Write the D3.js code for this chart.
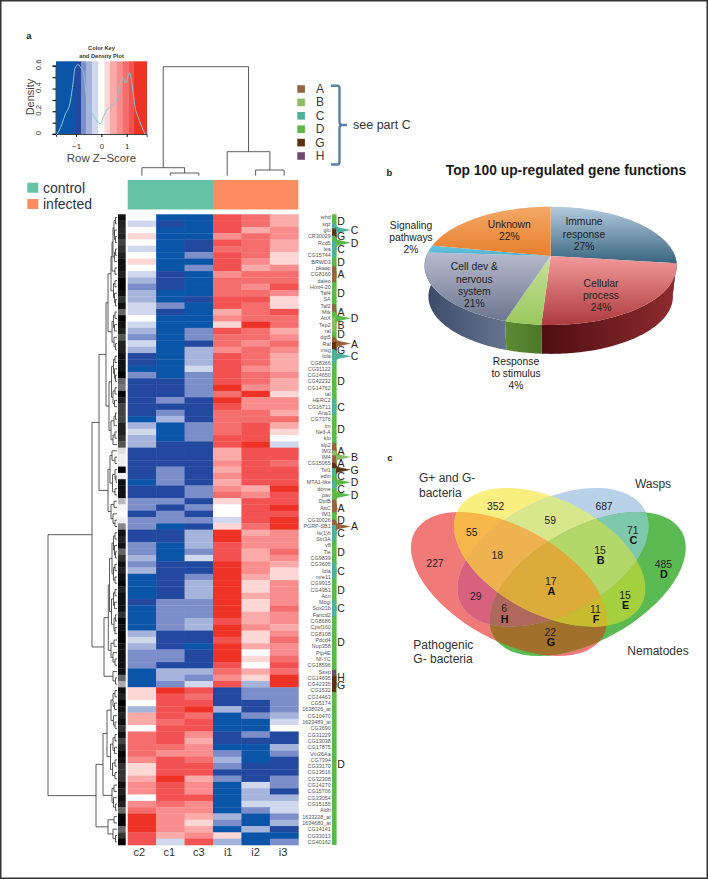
<!DOCTYPE html>
<html><head><meta charset="utf-8">
<script src="https://cdn.jsdelivr.net/npm/d3@7/dist/d3.min.js"></script>
<style>html,body{margin:0;padding:0;background:#fff}svg{display:block}text{font-family:"Liberation Sans",Arial,sans-serif}</style>
</head><body><div id="chart"></div>
<script>
// ---------- panel a data ----------
const geneLabels = ["whd","sqz","glu","CR30029","Rcd5","lea","CG15744","BRWD3","pkaap","CG8160","daleo","Hmt4-20","Taf4","SA","Taf2","Mtk","AttX","Tep2","ral","dgt5","Ral","msg","lola","CG8366","CG31122","CG14650","CG42232","CG14762","tal","HERC2","CG16711","Ana3","CG7376","trn","Nelf-A","klu","slp2","IM3","IM4","CG15065","Tsf1","edin","MTA1-like","dome","pav","DptB","AttC","IM1","CG30026","PGRP-SB1","fs(1)h","Sin3A","v8","Tie","CG9839","CG3605","lola","mre11","CG9915","CG4951","Acn","Mogi","Sox21b","Fancd2","CG8686","Cpsf160","CG8108","Pdcd4","Nup358","Ptp4E","Nf-YC","CG18596","Sssp","CG14695","CG42335","CG1532","CG14463","CG5174","1638026_at","CG10470","1623489_at","CG3690","CG31229","CG13038","CG17875","Vm26Aa","CG7394","CG33170","CG13516","CG32308","CG14270","CG15706","CG33054","CG15155","Aldh","1633228_at","1634680_at","CG14141","CG33013","CG40162"];
const sampleNames = ["c2","c1","c3","i1","i2","i3"];
const levelC2 = [0,-1,0,1,0,-1,0,1,0,-1,-2,-3,-2,-2,-1,-1,0,-1,-2,-3,-1,-2,-4,-4,-5,-3,-4,-4,-4,-4,-4,-4,-5,
 -2,-1,-2,-2,-4,-4,-4,-4,-4,-5,-4,-4,-3,-3,-4,-3,-3,-4,-4,-3,-3,-2,-3,-2,-5,-5,-5,-5,-4,-5,-5,-5,-5,-2,
 -1,-2,-3,-3,-3,-5,-5,-5,1,1,0,-2,2,2,0,4,4,4,4,3,1,1,2,3,3,0,3,4,6,6,6,5,5];
const levelC1 = [-5,-4,-5,-5,-5,-5,-5,-5,-5,-4,-4,-4,-5,-5,-3,-4,-5,-5,-5,-5,-5,-5,-5,-5,-5,-5,-4,-4,-4,-3,-4,-3,-2,
 -5,-5,-5,-4,-4,-4,-4,-3,-3,-3,-4,-4,-3,-4,-3,-3,-5,-4,-4,-5,-5,-5,-4,-4,-4,-4,-4,-4,-3,-3,-3,-3,-3,-4,
 -4,-4,-3,-3,-4,-2,-2,-3,6,5,5,5,5,4,5,5,5,4,3,5,5,5,6,5,5,5,4,3,3,3,3,2,-1];
const levelC3 = [-5,-5,-5,-5,-4,-4,-3,-5,-3,-5,-5,-5,-5,-4,-5,-5,-5,-5,-3,-3,-4,-2,-2,-2,-1,-3,-3,-3,-3,-4,-4,-4,-4,
 -3,-3,-3,-4,-4,-4,-4,-4,-4,-4,-3,-3,-4,-3,-4,-3,-4,-2,-2,-2,-3,-1,-4,-4,-3,-2,-2,-2,-3,-3,-3,-2,-2,-4,
 -4,-5,-4,-4,-4,-2,-3,-1,5,4,5,6,4,5,5,3,2,3,3,4,5,5,2,3,3,5,3,3,2,1,2,3,5];
const levelI1 = [5,5,5,3,5,4,5,5,5,3,4,4,4,5,5,2,3,1,5,4,4,3,5,5,5,5,5,6,4,6,5,4,4,
 4,4,5,5,2,2,3,2,3,2,3,4,1,0,0,-1,1,6,6,5,5,5,6,6,6,6,6,6,6,6,6,5,6,6,
 5,6,6,6,5,4,3,5,-4,-4,-4,-2,-5,-5,-5,-4,-4,-5,-3,-2,-3,-4,-3,-5,-5,-5,-5,-5,-2,-3,-5,1,-2];
const levelI2 = [4,4,2,4,4,4,4,3,2,4,4,3,4,5,4,4,4,6,4,4,3,4,4,4,3,4,4,3,6,3,3,4,4,
 5,5,5,6,5,5,5,5,5,5,2,3,5,5,5,5,4,2,3,3,2,2,3,3,2,1,1,2,1,1,2,2,3,1,
 1,2,0,1,0,2,1,-2,-3,-3,-4,-4,-3,-5,-5,-3,-4,-5,-5,-5,-4,-4,-4,-1,-2,-2,-1,-3,-5,-5,-2,-5,-5];
const levelI3 = [2,2,3,3,2,2,1,1,3,4,4,5,3,1,1,5,4,4,2,3,4,3,2,2,2,3,2,2,1,3,3,2,4,
 2,1,0,-1,5,5,4,5,5,5,6,5,5,6,5,6,6,3,3,3,4,3,2,1,1,3,3,3,3,4,3,3,2,3,
 4,3,3,4,5,4,6,6,-3,-3,-3,-3,-2,-1,0,-4,-4,-2,-3,-4,-4,-4,-3,-3,-4,-2,-1,-1,-3,-2,-4,-5,-3];
const heatColumns = [levelC2,levelC1,levelC3,levelI1,levelI2,levelI3];
const keyLevels = [-5,-4,-3,-2,-1,0,1,2,3,4,5,6];
const keyColors = ["#0b55a9","#2248a0","#7b8ec9","#a6b4dc","#d0d8ee","#ffffff","#fdd6d6","#fbaaaa","#f98d8d","#f56e6e","#f25252","#ee3326"];
const keyBreaks = [-1.79,-1.04,-0.80,-0.61,-0.36,-0.12,0.12,0.34,0.60,0.83,1.07,1.29,1.79];
const densityZ = [-1.74,-1.57,-1.43,-1.24,-1.11,-1.04,-0.91,-0.80,-0.71,-0.61,-0.45,-0.25,-0.05,0.08,0.24,0.41,0.61,0.74,0.87,0.97,1.11,1.2,1.33,1.5,1.72];
const densityY = [0,0.08,0.17,0.27,0.46,0.58,0.61,0.58,0.55,0.36,0.23,0.14,0.09,0.15,0.22,0.24,0.31,0.45,0.49,0.45,0.54,0.45,0.24,0.12,0];
const sideStrip = [17,34,42,34,68,51,34,17,17,34,0,0,17,51,17,102,0,17,34,85,34,34,17,17,17,0,102,119,0,34,68,68,68,34,34,51,85,221,240,238,0,238,17,17,17,187,245,255,238,136,17,34,17,102,51,17,34,17,0,34,17,17,17,51,0,17,0,0,17,17,17,17,17,102,170,17,34,0,17,34,17,51,17,68,34,0,17,51,51,51,17,34,17,34,102,0,0,102,51,0];
const colTree = [109,[8,0,[2.7,0,0]],[24,0,[5.7,0,0]]];
const rowTree = [69,
 [25,
  [18,
   [11,
    [9,
     [6,[5,[4,[3,[1.5,0,0],[2.5,0,[1.5,0,0]]],[2.5,[1.5,0,0],0]],[2,0,0]],[3.5,[2,0,0],[2.5,0,[1.5,0,0]]]],
     [5,[3.5,[2,0,0],[2.5,0,0]],[3,0,[1.5,0,0]]]],
    [8,
     [5.5,[3.5,[2,0,0],[2.5,0,[1.5,0,0]]],[4,[2,0,0],[2.5,0,0]]],
     [6,[3,[1.5,0,0],0],[4,[2,0,0],0]]]],
   [9,
    [7,[5,0,[2,0,0]],[4.5,[2,0,[1,0,0]],[2,0,0]]],
    [6,[3,0,0],[4,0,[2,0,0]]]]],
  [13,
   [8.7,
    [7.5,[5,[3.5,[2,0,0],[2.5,0,[1.5,0,0]]],[3.5,[2,0,0],[2,0,0]]],[5.5,[3.5,[2,0,0],[2.5,0,0]],[3,[1.5,0,0],[2,0,0]]]],
    [6,[3,0,0],[4,0,[2,0,0]]]],
   [4,0,[1.5,0,0]]]],
 [21,
  [14,
   [10,
    [6,[4,[2,0,0],[2.5,0,0]],[3.5,0,[2,0,0]]],
    [6.5,[4,[2,0,0],[2.5,0,0]],[4.5,[2,0,0],[2,0,0]]]],
   [5,[3,0,0],[3.5,0,[1.5,0,0]]]],
  [9,[3,0,0],[4,0,[1.5,0,0]]]]];
// category marks down the right of the heatmap: [row, category, reach (1 = long spike)]
const categoryNames = ["A","B","C","D","G","H"];
const categoryColors = ["#96633c","#8cbc62","#4fb09c","#5cb947","#5e3210","#6f4a6a"];
const spikeRows = [2,3,4,5,9,15,16,17,20,21,22,30,37,38,39,40,41,42,43,44,46,48,49,50,56,62,73,74];
const spikeCats = ["C","G","D","C","A","A","D","B","A","G","C","C","A","B","A","G","C","D","C","D","A","D","A","C","C","C","H","G"];
const spikeReach = [1,.25,1,.25,.25,.25,1,.2,1,.25,1,.25,.25,1,.25,1,.25,1,.25,1,.28,.25,1,.25,.25,.25,.25,.25];
const letterRows = [0.5,2,3,4,5,7,9,12,15,16,17,18.5,20,21,22,26,30,33.5,37,38,39,40,41,42,43,44,46,48,49,50,53,56,59,62,67.3,72.8,74.1,86.7];
const letterCats = ["D","C","G","D","C","D","A","D","A","D","B","D","A","G","C","D","C","D","A","B","A","G","C","D","C","D","A","D","A","C","D","C","D","C","D","H","G","D"];
const letterFar  = [0,1,0,1,0,0,0,0,0,1,0,0,1,0,1,0,0,0,0,1,0,1,0,1,0,1,0,0,1,0,0,0,0,0,0,0,0,0];
const groupNames = ["control","infected"];
const groupColors = ["#66c2a5","#fc8d62"];
// ---------- panel b data ----------
const pieNames = [["Immune","response"],["Cellular","process"],["Response","to stimulus"],["Cell dev &","nervous","system"],["Signaling","pathways"],["Unknown"]];
const pieValues = [27,24,4,21,2,22];
const pieTop = ["#b3cade","#f29a9b","#c6e39a","#b6bace","#6cc5de","#f3a868"];
const pieBottom = ["#39657f","#ad3a3d","#9ac75e","#6d768e","#4fb2cf","#e87f2c"];
const pieWallA = ["#39657f","#8f2b2e","#5c8b33","#3b4a68","#3b4a68","#3b4a68"];
const pieWallB = ["#39657f","#4e0e13","#4c7826","#66748e","#3b4a68","#3b4a68"];
// ---------- panel c data ----------
const vennSets = ["R","Y","B","G"];
const vennRegions = ["R","Y","B","G","RY","RB","RG","YB","YG","BG","RYB","RYG","RBG","YBG","RYBG"];
const vennFills = ["#f07a78","#f9ef80","#b9d2e8","#5bba52","#f8b74a","#d8627e","#a0702c","#d8e78c","#a4cf3e","#7ec8ac","#eeb24e","#c9bb2e","#b0685c","#b3d768","#dcab3a"];
const vennCounts = ["352","687","59","55","71","15","18","227","485","17","29","15","6","11","22"];
const vennLetters = ["","","","","C","B","","","D","A","","E","H","F","G"];

// ---------- layout ----------
const W=708,H=879;
const svg=d3.select("#chart").append("svg").attr("width",W).attr("height",H).attr("viewBox",`0 0 ${W} ${H}`);
const defs=svg.append("defs");
const ink="#333";
const txt=(g,x,y,s,size,o={})=>g.append("text").attr("x",x).attr("y",y).text(s).attr("font-size",size)
  .attr("text-anchor",o.anchor||"middle").attr("fill",o.fill||"#222").attr("font-weight",o.weight||null)
  .attr("font-family",o.family||null).attr("dominant-baseline",o.base||"central");
const lato='Lato,"Open Sans",sans-serif';
svg.append("rect").attr("x",.75).attr("y",.75).attr("width",W-1.5).attr("height",H-1.5).attr("fill","#fff").attr("stroke","#333").attr("stroke-width",1.5);
txt(svg,29,35,"a",9.5,{weight:"bold"});
txt(svg,389.5,172,"b",9.5,{weight:"bold"});
txt(svg,390,457,"c",9.5,{weight:"bold"});

// heatmap
const xCol=d3.scaleBand().domain(sampleNames).range([127.7,298.3]);
const yRow=d3.scaleBand().domain(d3.range(geneLabels.length)).range([214.3,845]);
const levelColor=d3.scaleOrdinal(keyLevels,keyColors);
const gH=svg.append("g");
sampleNames.forEach((s,c)=>{
  gH.append("g").selectAll("rect").data(heatColumns[c]).join("rect")
   .attr("x",xCol(s)).attr("width",xCol.bandwidth()+.4)
   .attr("y",(d,i)=>yRow(i)).attr("height",yRow.bandwidth()+.3)
   .attr("fill",d=>levelColor(d));
});
// column side strip
const xStrip={x:118,w:7.7};
gH.append("g").selectAll("rect").data(sideStrip).join("rect")
  .attr("x",xStrip.x).attr("width",xStrip.w).attr("y",(d,i)=>yRow(i)).attr("height",yRow.bandwidth()+.3)
  .attr("fill",d=>d3.rgb(d,d,d));
// group bar
const gB=svg.append("g");
[[0,3],[3,6]].forEach(([a,b],i)=>gB.append("rect").attr("x",xCol(sampleNames[a])).attr("y",180)
  .attr("width",xCol.bandwidth()*(b-a)).attr("height",29.5).attr("fill",groupColors[i]));
// group legend
groupNames.forEach((n,i)=>{
  svg.append("rect").attr("x",27.3).attr("y",182.7+i*16.3).attr("width",11).attr("height",10).attr("fill",groupColors[i]);
  txt(svg,43,187.5+i*16,n,14,{anchor:"start",fill:"#2a3540",family:lato});
});
// sample labels
sampleNames.forEach((s,i)=>txt(svg,xCol(s)+xCol.bandwidth()/2-[2.5,1,0,-1,0,1][i],851.5,s,11,{family:lato,fill:"#333"}));
// gene labels
svg.append("g").selectAll("text").data(geneLabels).join("text")
  .attr("x",330.7).attr("y",(d,i)=>yRow(i)+yRow.bandwidth()/2).text(d=>d)
  .attr("font-size",5.4).attr("text-anchor","end").attr("dominant-baseline","central").attr("fill","#555");

// dendrograms: node = [height,left,right], leaf = 0
function layoutTree(tree,leafPos){
  const root=d3.hierarchy(tree,d=>Array.isArray(d)?d.slice(1):null);
  let n=0;
  root.eachAfter(d=>{
    if(!d.children){d.p=leafPos(n++);d.h=0;}
    else{d.p=(d.children[0].p+d.children[1].p)/2;d.h=d.data[0];}
  });
  return root;
}
const rowH=d3.scaleLinear().domain([0,69]).range([117,48]);
const rootR=layoutTree(rowTree,i=>yRow(i)+yRow.bandwidth()/2);
const colH=d3.scaleLinear().domain([0,109]).range([175.7,66.7]);
const rootC=layoutTree(colTree,i=>xCol(sampleNames[i])+xCol.bandwidth()/2);
const pathR=[],pathC=[];
rootR.each(d=>{if(d.children){const [a,b]=d.children;const x=rowH(d.h);
  pathR.push(`M${rowH(a.h)},${a.p}H${x}V${b.p}H${rowH(b.h)}`);}});
rootC.each(d=>{if(d.children){const [a,b]=d.children;const y=colH(d.h);
  pathC.push(`M${a.p},${colH(a.h)}V${y}H${b.p}V${colH(b.h)}`);}});
svg.append("path").attr("d",pathR.join("")).attr("fill","none").attr("stroke",ink).attr("stroke-width",.8);
svg.append("path").attr("d",pathC.join("")).attr("fill","none").attr("stroke",ink).attr("stroke-width",.8);

// category ribbon
const catColor=d3.scaleOrdinal(categoryNames,categoryColors);
const reach=d3.scaleLinear().domain([0,1]).range([332,351]);
const rowC=i=>yRow(i)+yRow.bandwidth()/2;
const gR=svg.append("g");
gR.append("rect").attr("x",reach(0)).attr("width",4.6).attr("y",214.3).attr("height",630.7).attr("fill",catColor("D"));
const spikeArea=d3.area().x0(reach(0)).x1(d=>reach(d[1])).y(d=>d[0]).curve(d3.curveLinear);
const shape=[[-1.1,0.15],[-.45,.3],[0,1],[.45,.3],[1.1,0.15]];
spikeRows.forEach((r,i)=>{
  const R=spikeReach[i];
  const w=R<.5?1.9:1;
  const pts=R<.5?[[-1.2,.22],[-.7,R*.85],[0,R],[.7,R*.85],[1.2,.22]]:shape.map(([o,v])=>[o,v*R]);
  gR.append("path").attr("d",spikeArea(pts.map(([o,v])=>[rowC(r)+o*yRow.bandwidth()*(R<.5?w*.55:1),v])))
    .attr("fill",catColor(spikeCats[i]));
});
letterRows.forEach((r,i)=>txt(svg,letterFar[i]?354.5:341,rowC(0)+r*yRow.step(),letterCats[i],10.5,{fill:"#222",anchor:"middle"}));

// color key
const keyX=d3.scaleLinear().domain([-1.79,1.79]).range([56,146.7]);
const keyY=d3.scaleLinear().domain([0,0.64]).range([134,61.3]);
const gK=svg.append("g");
keyColors.forEach((c,i)=>gK.append("rect").attr("x",keyX(keyBreaks[i])).attr("y",61.3)
  .attr("width",keyX(keyBreaks[i+1])-keyX(keyBreaks[i])+.3).attr("height",72.7).attr("fill",c));
gK.append("path").datum(densityZ.map((z,i)=>[z,densityY[i]]))
  .attr("d",d3.line().x(d=>keyX(d[0])).y(d=>keyY(d[1])).curve(d3.curveMonotoneX))
  .attr("fill","none").attr("stroke","#86c9d6").attr("stroke-width",1);
const axY=gK.append("g").attr("transform","translate(56,0)").call(d3.axisLeft(keyY).tickValues(d3.range(0,0.61,0.1)).tickSize(3.5).tickFormat(d=>Math.round(d*10)%2==0?(d==0?"0":d3.format(".1f")(d)):""));
axY.selectAll("text").attr("transform",function(d){return `translate(${+this.getAttribute("x")-1},${keyY(d)-keyY(d)}) rotate(-90 ${+this.getAttribute("x")-1} 0)`}).attr("x",-6).attr("dy",0).attr("font-size",7.8).attr("fill","#333").attr("text-anchor","middle").attr("dominant-baseline","auto").attr("font-family",'"Liberation Sans"');
axY.select(".domain").attr("stroke","#444").attr("d",`M-3.5,${keyY(0.6)}H0M0,${keyY(0.6)}V134M-3.5,134H0`);
const axX=gK.append("g").attr("transform","translate(0,134)").call(d3.axisBottom(keyX).tickValues([-1,0,1]).tickSize(3).tickFormat(d=>d==-1?"\u22121":d));
axX.select(".domain").attr("stroke","#444");
axX.selectAll("text").attr("font-size",7.8).attr("fill","#333").attr("y",9).attr("font-family",'"Liberation Sans"');
txt(svg,101.5,158,"Row Z\u2212Score",11.4,{fill:"#444"});
txt(svg,30,97,"Density",11,{fill:"#444"}).attr("transform","rotate(-90 30 97)");
txt(svg,101.5,48,"Color Key",5.7,{weight:"bold",fill:"#333"});
txt(svg,101.5,55.8,"and Density Plot",5.7,{weight:"bold",fill:"#333"});

// category legend
categoryNames.forEach((n,i)=>{
  const y=89+i*13.4;
  svg.append("rect").attr("x",297.3).attr("y",y-3.8).attr("width",7.6).attr("height",7.6).attr("fill",catColor(n));
  txt(svg,320,y,n,12,{fill:"#3a3a3a"});
});
svg.append("path").attr("d","M331,85.7H337.5Q339.5,85.7 339.5,88V121.5Q339.5,125 342,125H347M342,125Q339.5,125 339.5,128.5V162Q339.5,164.5 337.5,164.5H331")
  .attr("fill","none").attr("stroke","#5b80a5").attr("stroke-width",2.4);
txt(svg,353,124.5,"see part C",12.5,{anchor:"start",fill:"#333",family:lato});

// ---------- pie ----------
txt(svg,566,170.5,"Top 100 up-regulated gene functions",13.8,{weight:"bold",fill:"#1a1a1a",family:lato});
const pieArcs=d3.pie().sort(null)(pieValues);
const P={ax:550.67,ay:256,R:57.5,rx:124.3,k:-0.166};
const proj=(t,s=1,dy=0)=>{const u=Math.sin(t),v=-Math.cos(t),den=1+P.k*v;
  return [P.ax+s*P.rx*u/den,P.ay+dy+s*P.R*v/den];};
const gP=svg.append("g");
const line=d3.line();
// side walls
pieArcs.forEach((a,i)=>{
  const t0=Math.max(a.startAngle,Math.PI*0.47),t1=Math.min(a.endAngle,Math.PI*1.52);
  if(t1<=t0) return;
  const ts=d3.range(t0,t1,0.02).concat([t1]);
  const pts=ts.map(t=>proj(t)).concat(ts.slice().reverse().map(t=>proj(t,.97,31)));
  const id="wall"+i;
  const xs=pts.map(p=>p[0]);
  const gr=defs.append("linearGradient").attr("id",id).attr("gradientUnits","userSpaceOnUse")
    .attr("x1",d3.min(xs)).attr("x2",d3.max(xs)).attr("y1",0).attr("y2",0);
  gr.append("stop").attr("offset",0).attr("stop-color",i==1?pieWallB[i]:pieWallA[i]);
  gr.append("stop").attr("offset",1).attr("stop-color",i==1?pieWallA[i]:pieWallB[i]);
  gP.append("path").attr("d",line(pts)+"Z").attr("fill",`url(#${id})`);
});
// top faces
pieArcs.forEach((a,i)=>{
  const ts=d3.range(a.startAngle,a.endAngle,0.02).concat([a.endAngle]);
  const pts=[[P.ax,P.ay]].concat(ts.map(t=>proj(t)));
  const id="top"+i;
  const ys=pts.map(p=>p[1]);
  const gr=defs.append("linearGradient").attr("id",id).attr("gradientUnits","userSpaceOnUse")
    .attr("x1",0).attr("x2",0).attr("y1",d3.min(ys)).attr("y2",d3.max(ys));
  gr.append("stop").attr("offset",0).attr("stop-color",pieTop[i]);
  gr.append("stop").attr("offset",1).attr("stop-color",pieBottom[i]);
  gP.append("path").attr("d",line(pts)+"Z").attr("fill",`url(#${id})`);
});
const pieLabelAt=[[584,221.7],[601,283.3],[516,361.3],[474.3,266.7],[411,225],[509.3,224.3]];
pieNames.forEach((lines,i)=>{
  const [x,y]=pieLabelAt[i];
  lines.concat(pieValues[i]+"%").forEach((s,j)=>txt(svg,x,y+j*12.3,s,10.3,{fill:"#222"}));
});

// ---------- venn ----------
const vx=d3.scaleLinear().domain([0,930]).range([390,700]);
const vy=d3.scaleLinear().domain([0,810]).range([440,710]);
const vs=d3.scaleLinear().domain([0,3]).range([0,1]);
const vennShape={R:[357,432,323,170,29],Y:[479,352,310,172,27],B:[489,352,310,172,-27],G:[593,432,323,170,-29]};
const ell=(s)=>{const [cx,cy,a,b,r]=vennShape[s];return {cx:vx(cx),cy:vy(cy),rx:vs(a),ry:vs(b),t:`rotate(${r} ${vx(cx)} ${vy(cy)})`};};
vennSets.forEach(s=>{const e=ell(s);
  defs.append("clipPath").attr("id","clip"+s).append("ellipse").attr("cx",e.cx).attr("cy",e.cy).attr("rx",e.rx).attr("ry",e.ry).attr("transform",e.t);});
const gV=svg.append("g");
vennRegions.forEach((reg,i)=>{
  const sets=reg.split("");
  let g=gV;
  sets.slice(0,-1).forEach(s=>{g=g.append("g").attr("clip-path",`url(#clip${s})`);});
  const e=ell(sets[sets.length-1]);
  g.append("ellipse").attr("cx",e.cx).attr("cy",e.cy).attr("rx",e.rx).attr("ry",e.ry).attr("transform",e.t).attr("fill",vennFills[i]);
});
const vennAt=[[317,200],[642,200],[481,240],[245,277],[728,270],[630,330],[322,347],[135,371],[820,373],[482,424],[257,470],[705,465],[342,506],[616,507],[481,576]];
vennCounts.forEach((c,i)=>{
  const [x,y]=vennAt[i];
  txt(svg,vx(x),vy(y),c,10.3,{fill:"#222"});
  if(vennLetters[i]) txt(svg,vx(x+2),vy(y+30),vennLetters[i],10.8,{fill:"#111",weight:"bold"});
});
const vennTitles=[["G+ and G-",419,478,"start"],["bacteria",419,492.7,"start"],["Wasps",653,484,"middle"],["Pathogenic",413.3,645,"start"],["G- bacteria",413.3,658.5,"start"],["Nematodes",658,650.7,"middle"]];
vennTitles.forEach(([s,x,y,an])=>txt(svg,x,y,s,12,{anchor:an,fill:"#333"}));
</script></body></html>
